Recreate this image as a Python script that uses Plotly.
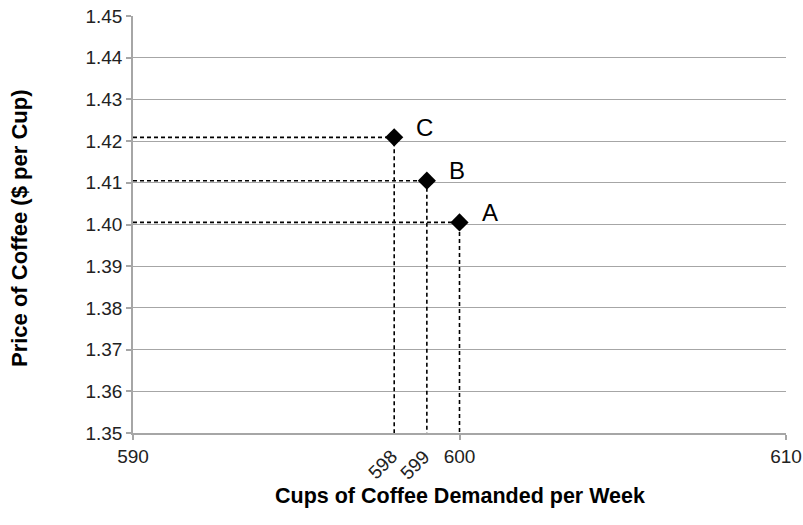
import plotly.graph_objects as go

labels = ["A", "B", "C"]
quantity = [600, 599, 598]
price = [1.4005, 1.4105, 1.4209]

x_min, x_max = 590, 610
y_min, y_max = 1.35, 1.45
y_ticks = [1.35, 1.36, 1.37, 1.38, 1.39, 1.40, 1.41, 1.42, 1.43, 1.44, 1.45]
x_ticks = [590, 600, 610]
rot_ticks = [598, 599]

FONT = "Liberation Sans, Arial, sans-serif"
W, H = 803, 525
L, R, T, B = 133, 17, 16, 92
pw, ph = W - L - R, H - T - B

fig = go.Figure()

for q, p in zip(quantity, price):
    fig.add_trace(go.Scatter(
        x=[x_min, q, q], y=[p, p, y_min], mode="lines",
        line=dict(color="black", width=1.6, dash="4px,3px"),
        hoverinfo="skip", showlegend=False, cliponaxis=False))

fig.add_trace(go.Scatter(
    x=quantity, y=price, mode="markers",
    marker=dict(symbol="diamond", size=14, color="black"),
    showlegend=False, cliponaxis=False))

annotations = []
for lab, q, p in zip(labels, quantity, price):
    annotations.append(dict(x=q, y=p, text=lab, showarrow=False,
                            xshift=30, yshift=10,
                            font=dict(size=24, color="black", family=FONT)))
for t in rot_ticks:
    annotations.append(dict(x=t, y=y_min, text=str(t), showarrow=False,
                            textangle=-45, xanchor="right", yanchor="top",
                            xshift=10, yshift=-10,
                            font=dict(size=19, color="#222", family=FONT)))
annotations.append(dict(xref="paper", yref="paper", x=(20 - L) / pw, y=(T + ph - 229) / ph,
                        text="<b>Price of Coffee ($ per Cup)</b>", textangle=-90,
                        showarrow=False, xanchor="center", yanchor="middle",
                        font=dict(size=22, color="black", family=FONT)))
annotations.append(dict(xref="paper", yref="paper", x=0.5, y=-(496 - (T + ph)) / ph,
                        text="<b>Cups of Coffee Demanded per Week</b>",
                        showarrow=False, xanchor="center", yanchor="middle",
                        font=dict(size=21.5, color="black", family=FONT)))

fig.update_layout(
    width=W, height=H,
    margin=dict(l=L, r=R, t=T, b=B, autoexpand=False),
    plot_bgcolor="white", paper_bgcolor="white",
    font=dict(family=FONT, size=19, color="#222"),
    annotations=annotations,
    xaxis=dict(range=[x_min, x_max], tickvals=x_ticks, ticktext=[str(v) for v in x_ticks],
               showgrid=False, zeroline=False, showline=True, linecolor="#a6a6a6", linewidth=1.5,
               ticks="outside", ticklen=5, tickcolor="#a6a6a6", tickwidth=1.5, automargin=False,
               tickfont=dict(size=19, color="#222")),
    yaxis=dict(range=[y_min, y_max], tickvals=y_ticks, ticktext=[f"{v:.2f}" for v in y_ticks],
               showgrid=True, gridcolor="#a6a6a6", gridwidth=1, zeroline=False,
               showline=True, linecolor="#a6a6a6", linewidth=1.5, automargin=False,
               ticks="outside", ticklen=5, tickcolor="#a6a6a6", tickwidth=1.5,
               tickfont=dict(size=19, color="#222")),
)

fig.write_html("out.html", config={"displayModeBar": False},
               post_script="document.body.style.margin='0px';")
